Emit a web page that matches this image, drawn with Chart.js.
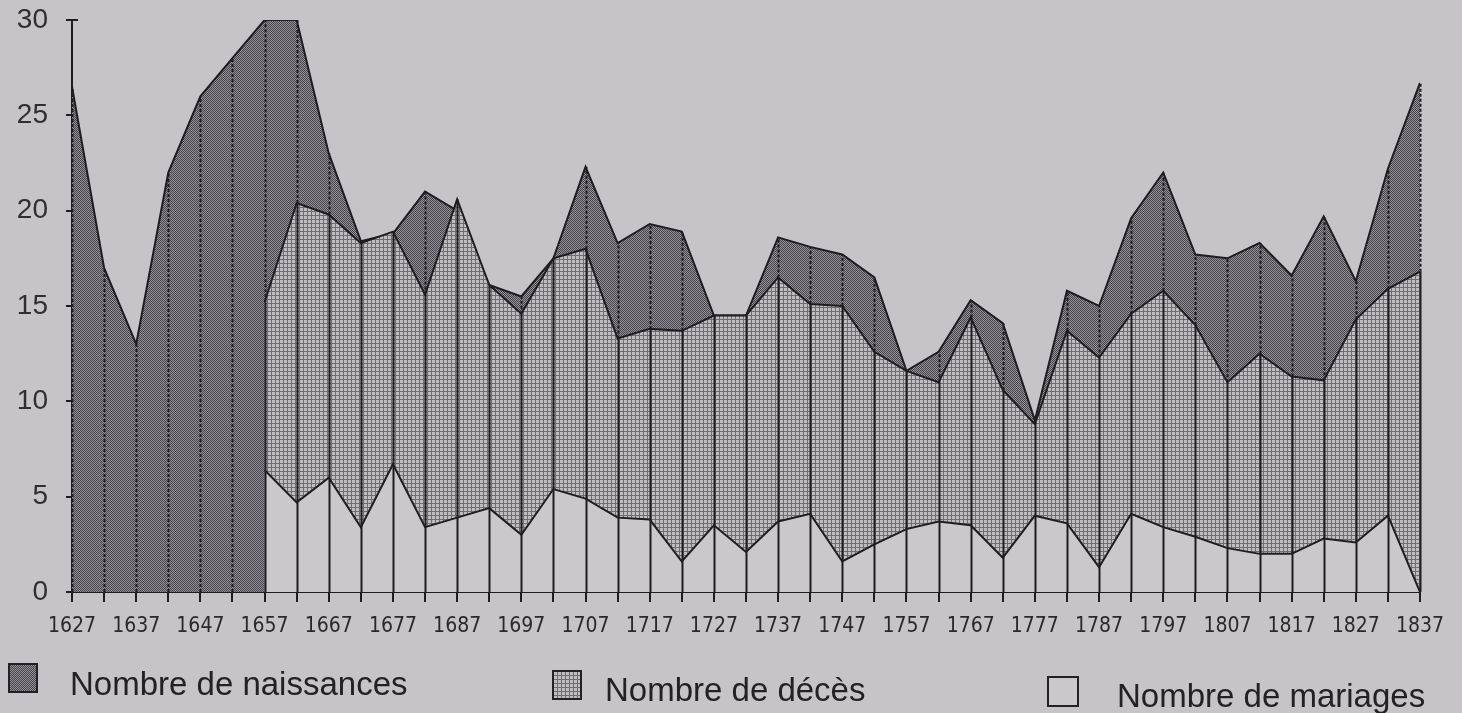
<!DOCTYPE html>
<html lang="fr">
<head>
<meta charset="utf-8">
<title>Naissances, décès et mariages 1627-1837</title>
<script src="https://cdn.jsdelivr.net/npm/chart.js@4.4.1/dist/chart.umd.min.js"></script>
<style>
  html, body { margin: 0; padding: 0; background: #c7c4c9; }
  #wrap { position: relative; width: 1462px; height: 713px; overflow: hidden; }
  #chart { position: absolute; left: 0; top: 0; }
  .swatch { position: absolute; box-sizing: border-box; border: 2px solid #232126; }
  .legend-text {
    position: absolute; white-space: nowrap; line-height: 1;
    font-family: 'Liberation Sans', Arial, sans-serif; font-size: 33px; color: #232126;
  }
</style>
</head>
<body>
<div id="wrap">
  <canvas id="chart" width="1462" height="713"></canvas>

  <span class="swatch" id="sw-births" style="left:8px; top:663px; width:30px; height:30px;"></span>
  <span class="legend-text" style="left:70px; top:667px;">Nombre de naissances</span>

  <span class="swatch" id="sw-deaths" style="left:552px; top:670px; width:30px; height:30px;"></span>
  <span class="legend-text" style="left:605px; top:673px;">Nombre de décès</span>

  <span class="swatch" id="sw-marriages" style="left:1047px; top:676px; width:32px; height:31px; background:#cbc8cc;"></span>
  <span class="legend-text" style="left:1117px; top:679px;">Nombre de mariages</span>
</div>

<script>
// one value every five years
const years = [1627, 1632, 1637, 1642, 1647, 1652, 1657, 1662, 1667, 1672,
               1677, 1682, 1687, 1692, 1697, 1702, 1707, 1712, 1717, 1722,
               1727, 1732, 1737, 1742, 1747, 1752, 1757, 1762, 1767, 1772,
               1777, 1782, 1787, 1792, 1797, 1802, 1807, 1812, 1817, 1822,
               1827, 1832, 1837];
const labelYears = [1627, 1637, 1647, 1657, 1667, 1677, 1687, 1697, 1707, 1717, 1727,
                    1737, 1747, 1757, 1767, 1777, 1787, 1797, 1807, 1817, 1827, 1837];

const naissances = [26.5, 17, 13, 22, 26, 28, 30, 30, 23, 18.4,
                    18.8, 21, 20, 16.1, 15.5, 17.5, 22.3, 18.3, 19.3, 18.9,
                    14.5, 14.5, 18.6, 18.1, 17.7, 16.5, 11.6, 12.6, 15.3, 14.1,
                    9.0, 15.8, 15.0, 19.6, 22.0, 17.7, 17.5, 18.3, 16.6, 19.7,
                    16.3, 22.2, 26.7];
const deces = [null, null, null, null, null, null, 15.2, 20.4, 19.8, 18.3,
               18.9, 15.6, 20.6, 16.1, 14.6, 17.5, 18.0, 13.3, 13.8, 13.7,
               14.5, 14.5, 16.5, 15.1, 15.0, 12.6, 11.6, 11.0, 14.4, 10.6,
               8.8, 13.7, 12.3, 14.6, 15.8, 14.0, 11.0, 12.5, 11.3, 11.1,
               14.3, 15.9, 16.8];
const mariages = [null, null, null, null, null, null, 6.4, 4.7, 6.0, 3.4,
                  6.7, 3.4, 3.9, 4.4, 3.0, 5.4, 4.9, 3.9, 3.8, 1.6,
                  3.5, 2.1, 3.7, 4.1, 1.6, 2.5, 3.3, 3.7, 3.5, 1.8,
                  4.0, 3.6, 1.3, 4.1, 3.4, 2.9, 2.3, 2.0, 2.0, 2.8,
                  2.6, 4.0, 0];

const ink = '#1f1d22';
const paper = '#cbc8cc';

// small screen tiles standing in for the printed dot screens
function makeTile(size, light, dark, isDark) {
  const c = document.createElement('canvas');
  c.width = size; c.height = size;
  const g = c.getContext('2d');
  g.fillStyle = light;
  g.fillRect(0, 0, size, size);
  g.fillStyle = dark;
  for (let i = 0; i < size; i++) {
    for (let j = 0; j < size; j++) {
      if (isDark(i, j)) g.fillRect(i, j, 1, 1);
    }
  }
  return c;
}
const birthsTile = makeTile(2, '#939098', '#48464c', (i, j) => (i + j) % 2 === 0);
const deathsTile = makeTile(4, '#c0bdc2', '#6f6c72', (i, j) => i === 3 || j === 3);

document.getElementById('sw-births').style.backgroundImage = 'url(' + birthsTile.toDataURL() + ')';
document.getElementById('sw-deaths').style.backgroundImage = 'url(' + deathsTile.toDataURL() + ')';

const ctx = document.getElementById('chart').getContext('2d');
const birthsPattern = ctx.createPattern(birthsTile, 'repeat');
const deathsPattern = ctx.createPattern(deathsTile, 'repeat');

function points(values) {
  return years.map((yr, i) => ({ x: yr, y: values[i] }));
}

// vertical lines at every five-year mark, up to the highest curve
const dropLines = {
  id: 'dropLines',
  afterDatasetsDraw(chart) {
    const { ctx, scales: { x, y } } = chart;
    const base = y.getPixelForValue(0);
    ctx.save();
    ctx.strokeStyle = ink;
    ctx.lineWidth = 2;
    years.forEach((yr, i) => {
      const px = Math.round(x.getPixelForValue(yr)) + 0.5;
      const low = Math.max(deces[i] ?? 0, mariages[i] ?? 0);
      const lowPx = y.getPixelForValue(low);
      if (low > 0) {
        ctx.setLineDash([]);
        ctx.beginPath(); ctx.moveTo(px, base); ctx.lineTo(px, lowPx); ctx.stroke();
      }
      if (naissances[i] > low) {
        ctx.setLineDash([3, 2]);
        ctx.beginPath(); ctx.moveTo(px, lowPx); ctx.lineTo(px, y.getPixelForValue(naissances[i])); ctx.stroke();
      }
    });
    // cap at the top of the vertical axis
    ctx.setLineDash([]);
    const top = y.getPixelForValue(30);
    ctx.beginPath(); ctx.moveTo(x.left - 6, top); ctx.lineTo(x.left + 6, top); ctx.stroke();
    ctx.restore();
  }
};

new Chart(ctx, {
  type: 'line',
  data: {
    datasets: [
      {
        label: 'Nombre de naissances',
        data: points(naissances),
        backgroundColor: birthsPattern,
        borderColor: ink,
        borderWidth: 2,
        fill: 'origin',
        order: 3
      },
      {
        label: 'Nombre de décès',
        data: points(deces),
        backgroundColor: deathsPattern,
        borderColor: ink,
        borderWidth: 2,
        fill: 'origin',
        order: 2
      },
      {
        label: 'Nombre de mariages',
        data: points(mariages),
        backgroundColor: paper,
        borderColor: ink,
        borderWidth: 2,
        fill: 'origin',
        order: 1
      }
    ]
  },
  options: {
    responsive: false,
    animation: false,
    elements: { point: { radius: 0 }, line: { tension: 0 } },
    layout: { padding: { top: 20, right: 42, left: 0, bottom: 0 } },
    plugins: { legend: { display: false }, tooltip: { enabled: false } },
    scales: {
      x: {
        type: 'linear',
        min: 1627,
        max: 1837,
        afterBuildTicks: s => { s.ticks = years.map(v => ({ value: v })); },
        afterFit: s => { s.height = 121; s.paddingLeft = 0; s.paddingRight = 0; },
        ticks: {
          autoSkip: false,
          maxRotation: 0,
          padding: 12,
          color: '#2a282c',
          font: { family: "'Liberation Sans Narrow', 'DejaVu Sans Condensed', 'Liberation Sans', Arial", size: 21 },
          callback: v => labelYears.includes(v) ? String(v) : ''
        },
        grid: { drawOnChartArea: false, drawTicks: true, tickLength: 10, color: ink, lineWidth: 2 },
        border: { display: true, color: ink, width: 2 }
      },
      y: {
        min: 0,
        max: 30,
        afterFit: s => { s.width = 72; s.paddingTop = 0; s.paddingBottom = 0; },
        ticks: {
          stepSize: 5,
          padding: 18,
          color: '#302e33',
          font: { family: "'Liberation Sans', Arial", size: 28 }
        },
        grid: { drawOnChartArea: false, drawTicks: true, tickLength: 6, color: ink, lineWidth: 2 },
        border: { display: true, color: ink, width: 2 }
      }
    }
  },
  plugins: [dropLines]
});
</script>
</body>
</html>
